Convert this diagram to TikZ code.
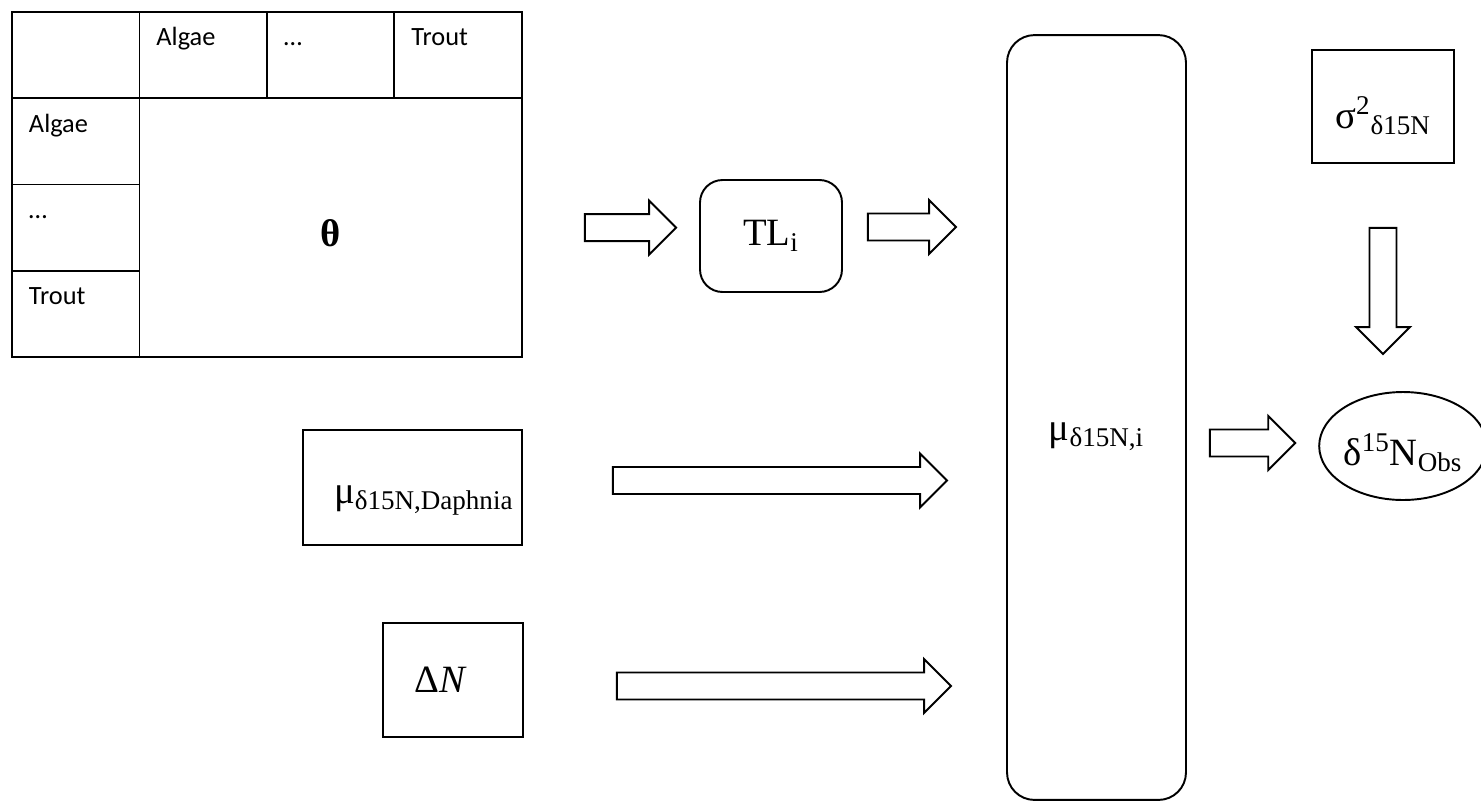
\documentclass[tikz,border=0pt]{standalone}
\usepackage{fontspec}
\setmainfont{Liberation Serif}
\newfontfamily\tabfont{Carlito}
\usepackage{tikz}
\usetikzlibrary{calc,shapes.geometric}

\tikzset{
  rblock/.style={draw, fill=white, line width=1.1pt, line join=miter,
    to path={let \p1=(\tikztostart), \p2=(\tikztotarget) in
      (\x1,{\y1+0.27cm}) -- ({\x2-0.54cm},{\y1+0.27cm}) -- ({\x2-0.54cm},{\y1+0.54cm})
      -- (\x2,\y1) -- ({\x2-0.54cm},{\y1-0.54cm}) -- ({\x2-0.54cm},{\y1-0.27cm})
      -- (\x1,{\y1-0.27cm}) -- cycle}},
  dblock/.style={draw, fill=white, line width=1.1pt, line join=miter,
    to path={let \p1=(\tikztostart), \p2=(\tikztotarget) in
      ({\x1-0.27cm},\y1) -- ({\x1-0.27cm},{\y2+0.54cm}) -- ({\x1-0.54cm},{\y2+0.54cm})
      -- (\x1,\y2) -- ({\x1+0.54cm},{\y2+0.54cm}) -- ({\x1+0.27cm},{\y2+0.54cm})
      -- ({\x1+0.27cm},\y1) -- cycle}},
  lower/.style={text height=#1, text depth=0pt}
}

\begin{document}
\begin{tikzpicture}[x=0.02cm, y=-0.02cm,
  cell/.style={draw, line width=1.1pt, anchor=north west, outer sep=0pt,
               inner sep=0pt, inner xsep=0.34cm, text width=1.87cm,
               text height=0.68cm, text depth=1.045cm, align=left,
               font=\tabfont\fontsize{15}{18}\selectfont},
  box/.style={draw, line width=1.1pt, inner sep=0pt,
              font=\fontsize{22}{26}\selectfont},
  rbox/.style={box, rounded corners=0.45cm}
]
\useasboundingbox (0,0) rectangle (1481,802);

% food-web matrix
\node[cell] (corner) at (12,12) {};
\node[cell] (hAlgae) at (corner.north east) {Algae};
\node[cell] (hDots)  at (hAlgae.north east) {…};
\node[cell] (hTrout) at (hDots.north east)  {Trout};
\node[cell] (rAlgae) at (corner.south west) {Algae};
\node[cell] (rDots)  at (rAlgae.south west) {…};
\node[cell] (rTrout) at (rDots.south west)  {Trout};
\node[box, lower=0.74cm, anchor=north west, outer sep=0pt, minimum width=7.65cm,
      minimum height=5.175cm] (theta) at (rAlgae.north east) {\textbf{θ}};

% model nodes
\node[rbox, minimum width=2.84cm, minimum height=2.24cm] (tl) at (771,236) {TL\textsubscript{i}};
\node[box, lower=0.9cm, rounded corners=0.55cm, minimum width=3.58cm, minimum height=15.3cm]
  (mui) at (1096.5,417.5) {μ\textsubscript{δ15N,i}};
\node[box, lower=0.86cm, minimum width=2.84cm, minimum height=2.26cm] (sigma) at (1383,106.5)
  {σ\textsuperscript{2}\textsubscript{δ15N}};
\node[box, lower=0.76cm, ellipse, minimum width=3.12cm, minimum height=2.16cm] (obs) at (1403,446)
  {δ\textsuperscript{15}N\textsubscript{Obs}};
\node[box, lower=0.62cm, minimum width=4.38cm, minimum height=2.3cm] (mudaph) at (412.5,487.5)
  {\hspace*{0.45cm}μ\textsubscript{δ15N,Daphnia}};
\node[box, minimum width=2.8cm, minimum height=2.28cm] (deltaN) at (453,680)
  {Δ\textit{N}\hspace*{0.5cm}};

% block arrows
\draw[rblock] ([xshift=1.26cm]theta.east) to ([xshift=-0.46cm]tl.west);
\draw[rblock] ([xshift=0.5cm,yshift=0.18cm]tl.east) to ([xshift=-1cm]mui.west);
\draw[rblock] ([xshift=1.8cm,yshift=0.14cm]mudaph.east) to ([xshift=-1.18cm]mui.west);
\draw[rblock] ([xshift=1.86cm,yshift=-0.12cm]deltaN.east) to ([xshift=-1.1cm]mui.west);
\draw[rblock] ([xshift=0.46cm,yshift=-0.51cm]mui.east) to ([xshift=-0.46cm]obs.west);
\draw[dblock] ([yshift=-1.28cm]sigma.south) to ([yshift=0.74cm]obs.north);

\end{tikzpicture}
\end{document}
